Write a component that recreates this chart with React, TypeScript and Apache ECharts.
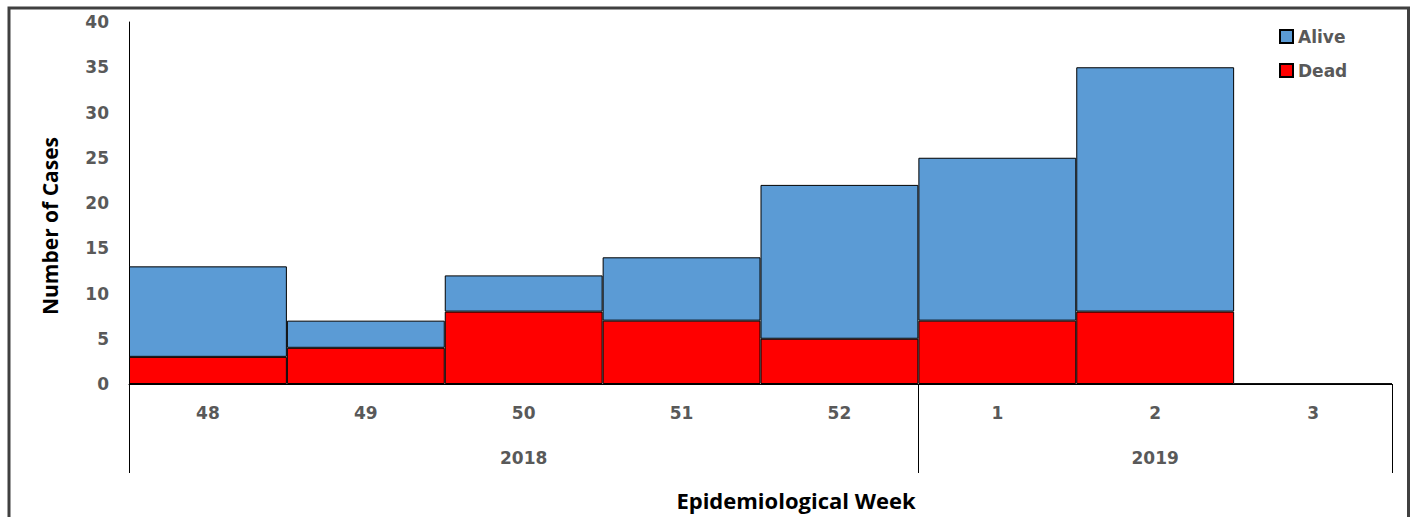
import React, { useEffect, useRef } from "react";
import * as echarts from "echarts";

const weeks = ["48", "49", "50", "51", "52", "1", "2", "3"];
const deadCases = [3, 4, 8, 7, 5, 7, 8, 0];
const aliveCases = [10, 3, 4, 7, 17, 18, 27, 0];
const years = ["2018", "2019"];
const weeksPerYear = [5, 3];
const yTicks = [0, 5, 10, 15, 20, 25, 30, 35, 40];

const TICK_FONT = "'DejaVu Sans', Verdana, sans-serif";
const TITLE_FONT = "'Open Sans', 'Noto Sans', sans-serif";
const GRAY = "#595959";

export default function App() {
  const ref = useRef<HTMLDivElement>(null);

  useEffect(() => {
    if (!ref.current) return;
    const chart = echarts.init(ref.current, undefined, { renderer: "svg" });

    // year group boundaries and centers (in category units)
    const bounds: number[] = [0];
    const centers: number[] = [];
    weeksPerYear.forEach((n) => {
      const start = bounds[bounds.length - 1];
      centers.push(start + n / 2);
      bounds.push(start + n);
    });

    chart.setOption({
      animation: false,
      backgroundColor: "#ffffff",
      grid: {
        left: 129,
        right: 22,
        top: 22,
        bottom: 133,
        containLabel: false,
        outerBoundsMode: "none",
      },
      legend: {
        data: ["Alive", "Dead"],
        orient: "vertical",
        left: 1274,
        top: 23,
        itemWidth: 13,
        itemHeight: 13,
        itemGap: 17,
        icon: "rect",
        textStyle: {
          fontFamily: TICK_FONT,
          fontWeight: "bold",
          fontSize: 17,
          lineHeight: 17,
          color: GRAY,
        },
      },
      xAxis: [
        {
          type: "category",
          data: weeks,
          position: "bottom",
          axisLine: { show: true, lineStyle: { color: "#000", width: 1 } },
          axisTick: { show: false },
          axisLabel: {
            margin: 20,
            fontFamily: TICK_FONT,
            fontWeight: "bold",
            fontSize: 17,
            color: GRAY,
          },
        },
        {
          type: "value",
          min: 0,
          max: weeks.length,
          position: "bottom",
          axisLine: { show: false },
          splitLine: { show: false },
          axisTick: {
            show: true,
            customValues: bounds,
            length: 89,
            lineStyle: { color: "#000", width: 1 },
          },
          axisLabel: {
            show: true,
            customValues: centers,
            margin: 65,
            formatter: (v: number) => {
              const i = centers.findIndex((c) => Math.abs(c - v) < 1e-6);
              return i >= 0 ? years[i] : "";
            },
            fontFamily: TICK_FONT,
            fontWeight: "bold",
            fontSize: 17,
            color: GRAY,
          },
        },
      ],
      yAxis: {
        type: "value",
        min: yTicks[0],
        max: yTicks[yTicks.length - 1],
        interval: yTicks[1] - yTicks[0],
        axisLine: { show: true, lineStyle: { color: "#000", width: 1 } },
        axisTick: { show: false },
        splitLine: { show: false },
        axisLabel: {
          margin: 20,
          fontFamily: TICK_FONT,
          fontWeight: "bold",
          fontSize: 17,
          color: GRAY,
        },
      },
      series: [
        {
          name: "Dead",
          type: "bar",
          stack: "cases",
          xAxisIndex: 0,
          data: deadCases,
          barCategoryGap: "0%",
          itemStyle: { color: "#FF0000", borderColor: "#000", borderWidth: 1 },
        },
        {
          name: "Alive",
          type: "bar",
          stack: "cases",
          xAxisIndex: 0,
          data: aliveCases,
          barCategoryGap: "0%",
          itemStyle: { color: "#5B9BD5", borderColor: "#000", borderWidth: 1 },
        },
      ],
      graphic: [
        {
          type: "rect",
          shape: { x: 9, y: 8, width: 1399.5, height: 530 },
          style: { fill: "none", stroke: "#404040", lineWidth: 3 },
          silent: true,
          z: 100,
        },
        {
          type: "text",
          x: 50,
          y: 226,
          rotation: Math.PI / 2,
          style: {
            text: "Number of Cases",
            fontFamily: TITLE_FONT,
            fontWeight: "bold",
            fontSize: 21,
            fill: "#000",
            align: "center",
            verticalAlign: "middle",
          },
        },
        {
          type: "text",
          x: 796,
          y: 500,
          style: {
            text: "Epidemiological Week",
            fontFamily: TITLE_FONT,
            fontWeight: "bold",
            fontSize: 22,
            fill: "#000",
            align: "center",
            verticalAlign: "middle",
          },
        },
      ],
    });

    return () => chart.dispose();
  }, []);

  return (
    <div
      ref={ref}
      style={{ position: "absolute", left: 0, top: 0, width: 1414, height: 517 }}
    />
  );
}
